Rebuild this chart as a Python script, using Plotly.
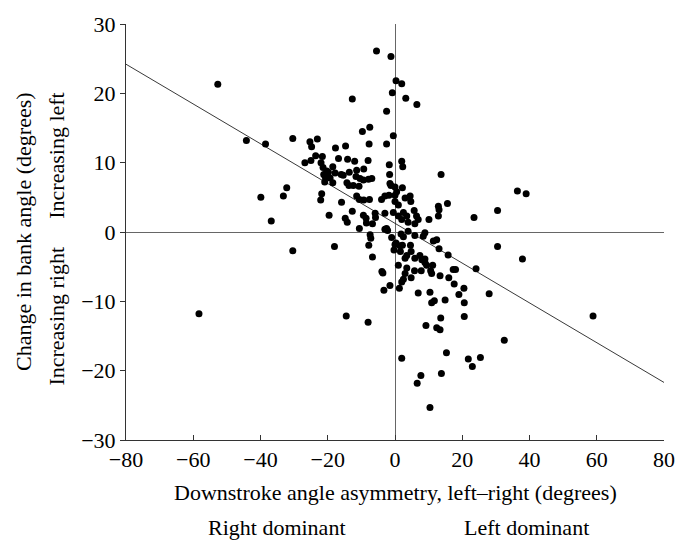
import plotly.graph_objects as go

# Downstroke angle asymmetry (degrees), left-right
asym = [
    -58.3, -52.7, -44.2, -38.5, -39.9, -36.8, -33.2, -32.2, -30.4, -30.4,
    -26.8, -25.3, -24.8, -25.0, -23.1, -23.6, -21.6, -22.0, -21.4, -20.3,
    -18.5, -17.8, -20.7, -19.3, -20.9, -18.5, -21.2, -19.8, -17.7, -14.7,
    -16.8, -14.1, -12.0, -8.0, -7.7, -2.5, -12.7, -9.7, -7.5, -5.5,
    -1.2, 0.3, 2.0, -0.8, 3.2, 6.5, -2.5, -0.5, -1.7, -1.6,
    -1.5, -16.0, -15.4, -13.6, -11.4, -9.3, -11.6, -10.4, -9.4, -7.9,
    -6.9, -14.3, -13.7, -12.4, -10.7, -21.8, -22.1, -15.9, -11.4, -10.6,
    -9.3, -7.6, -4.0, -3.0, -1.8, -19.6, -14.8, -14.2, -12.7, -9.4,
    -8.6, -8.5, -6.7, -5.9, -5.8, -3.0, -10.6, -2.5, -2.2,
    2.0, 2.3, 13.7, -1.2, 0.0, 2.2, 0.5, 0.0, 3.0, 4.5,
    4.7, 0.0, 1.0, -0.5, 1.0, 2.5, 3.5, 2.0, 3.9, 5.7,
    6.4, 5.9, 6.9, 10.1, 12.9, 13.1, 12.9, 15.6, 23.5, 30.5,
    36.4, 39.0,
    -18.0, -14.5, -8.0, -7.8, -7.4, -7.2, -6.7, -3.9, -3.6, -1.5,
    -3.3, -0.3, 0.3, 1.0, 1.3, -3.0, 1.8, 2.5, 3.9, 5.9,
    8.9, 8.4, 1.5, 1.6, 4.6, 4.8, 3.5, 3.0, 5.9, 7.4,
    8.0, 8.9, 8.9, 11.4, 12.4, 13.1, 15.8, 3.5, 5.8, 7.8,
    9.4, 10.6, 11.2, 10.9, 13.4, 17.3, 18.0, 24.1, 16.0, 17.6,
    3.0, 2.5, 2.0, 4.8, 6.9, 10.4, 10.9, 11.7, 14.9, 19.0,
    20.5, 20.6, 28.0, 20.6, 13.6, 9.2, 12.4, 13.4, 30.5, 37.9,
    58.9, 32.5, 15.3, 2.0, 21.8, 25.4, 23.0, 13.8, 7.7, 6.6,
    10.4, -1.0, 0.0, 2.2,
]

# Change in bank angle (degrees)
bank = [
    -11.8, 21.3, 13.2, 12.7, 5.0, 1.6, 5.2, 6.4, 13.5, -2.7,
    10.0, 13.0, 12.3, 10.3, 13.4, 11.0, 10.9, 10.0, 9.3, 8.8,
    9.4, 8.5, 7.9, 7.8, 7.2, 7.1, 8.3, 8.6, 12.1, 12.4,
    10.6, 10.5, 10.2, 10.3, 12.7, 12.7, 19.2, 14.5, 15.1, 26.1,
    25.3, 21.8, 21.4, 20.1, 19.3, 18.4, 17.4, 13.9, 9.7, 8.3,
    7.0, 8.3, 8.2, 8.6, 8.9, 9.1, 8.0, 7.7, 7.5, 7.6,
    7.7, 7.1, 6.7, 6.7, 6.6, 5.5, 4.6, 4.3, 5.2, 4.7,
    4.6, 4.7, 4.7, 5.2, 5.3, 2.4, 2.0, 1.4, 3.0, 2.4,
    2.0, 1.3, 1.2, 2.7, 2.1, 2.7, 0.5, 0.5, 0.2,
    10.2, 9.4, 8.3, 6.7, 6.5, 6.4, 5.8, 5.3, 4.9, 5.2,
    4.4, 4.4, 3.9, 2.8, 2.3, 2.8, 2.3, 1.8, 1.4, 3.1,
    2.3, 1.2, 1.8, 1.8, 3.7, 3.2, 2.3, 4.1, 2.1, 3.1,
    5.9, 5.5,
    -2.1, -12.1, -13.0, -1.9, -0.4, -0.9, -3.6, -5.7, -5.9, -7.7,
    -8.4, -2.6, -1.6, -4.8, -8.1, 0.4, -0.3, -0.7, 0.1, -0.5,
    -0.1, -0.6, -2.0, -2.8, -1.9, -2.8, -3.4, -3.8, -3.8, -3.4,
    -4.0, -3.9, -4.4, -1.3, -1.1, -2.4, -3.3, -5.2, -5.6, -5.6,
    -4.8, -5.6, -4.8, -6.0, -6.3, -5.4, -5.4, -5.3, -6.6, -7.5,
    -6.0, -6.8, -7.2, -6.6, -8.8, -8.7, -10.2, -9.9, -9.8, -9.0,
    -8.1, -10.2, -8.9, -12.2, -12.4, -13.5, -13.8, -14.1, -2.1, -3.9,
    -12.1, -15.6, -17.4, -18.2, -18.3, -18.1, -19.4, -20.4, -20.7, -21.8,
    -25.3, -0.8, -1.8, -1.9,
]

# Fitted regression line end points
fit_x = [-80, 80]
fit_y = [24.2, -21.7]

x_ticks = [-80, -60, -40, -20, 0, 20, 40, 60, 80]
y_ticks = [-30, -20, -10, 0, 10, 20, 30]

FONT = "Liberation Serif"
FS = 22

fig = go.Figure()
fig.add_trace(go.Scatter(
    x=fit_x, y=fit_y, mode="lines",
    line=dict(color="#222222", width=0.9),
    showlegend=False, hoverinfo="skip",
))
fig.add_trace(go.Scatter(
    x=asym, y=bank, mode="markers",
    marker=dict(color="black", size=7, line=dict(width=0)),
    showlegend=False,
))

fig.update_layout(
    width=687, height=541,
    margin=dict(l=126, r=23, t=18, b=101),
    paper_bgcolor="white", plot_bgcolor="white",
    font=dict(family=FONT, size=FS, color="black"),
    xaxis=dict(
        range=[-80, 80], tickvals=x_ticks, showgrid=False,
        zeroline=True, zerolinecolor="#666666", zerolinewidth=1,
        showline=True, linecolor="#333333", linewidth=1,
        ticks="inside", ticklen=5, tickcolor="#333333",
        tickfont=dict(family=FONT, size=FS),
    ),
    yaxis=dict(
        range=[-30, 30], tickvals=y_ticks, showgrid=False,
        zeroline=True, zerolinecolor="#666666", zerolinewidth=1,
        showline=True, linecolor="#333333", linewidth=1,
        ticks="outside", ticklen=5, tickcolor="#333333",
        tickfont=dict(family=FONT, size=FS),
    ),
    annotations=[
        dict(text="Downstroke angle asymmetry, left–right (degrees)",
             xref="x", yref="paper", x=0, y=-0.126, showarrow=False,
             xanchor="center", yanchor="middle", font=dict(size=FS)),
        dict(text="Right dominant", xref="x", yref="paper", x=-35, y=-0.21,
             showarrow=False, xanchor="center", yanchor="middle", font=dict(size=FS)),
        dict(text="Left dominant", xref="x", yref="paper", x=39, y=-0.21,
             showarrow=False, xanchor="center", yanchor="middle", font=dict(size=FS)),
        dict(text="Change in bank angle (degrees)", xref="paper", yref="y",
             x=-103 / 538, y=0, textangle=-90, showarrow=False,
             xanchor="center", yanchor="middle", font=dict(size=FS)),
        dict(text="Increasing left", xref="paper", yref="y",
             x=-69 / 538, y=11, textangle=-90, showarrow=False,
             xanchor="center", yanchor="middle", font=dict(size=FS)),
        dict(text="Increasing right", xref="paper", yref="y",
             x=-69 / 538, y=-12.2, textangle=-90, showarrow=False,
             xanchor="center", yanchor="middle", font=dict(size=FS)),
    ],
)

fig.write_html("out.html")
